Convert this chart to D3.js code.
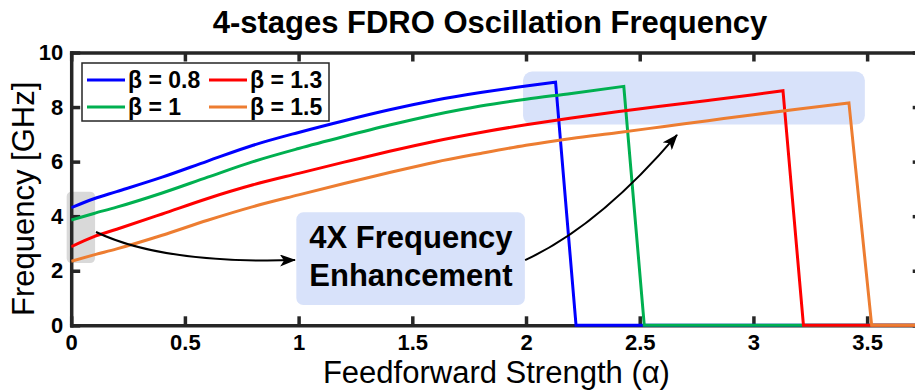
<!DOCTYPE html>
<html>
<head>
<meta charset="utf-8">
<script src="https://cdn.jsdelivr.net/npm/d3@7"></script>
<style>
  body { margin: 0; background: #fff; }
  svg { display: block; }
  text { font-family: "Liberation Sans", Arial, Helvetica, sans-serif; }
</style>
</head>
<body>
<svg id="chart" width="915" height="392"></svg>
<script>
// ---- data: oscillation frequency [GHz] vs feedforward strength α ----
const seriesNames  = ["β = 0.8", "β = 1", "β = 1.3", "β = 1.5"];
const seriesColors = ["#0000ff", "#00b050", "#ff0000", "#ed7d31"];

const alphaBeta08 = [0, 0.1, 0.2, 0.4, 0.6, 0.8, 1.0, 1.2, 1.4, 1.6, 1.8, 2.0, 2.13, 2.22, 3.8];
const freqBeta08  = [4.31, 4.64, 4.9, 5.43, 6.02, 6.6, 7.07, 7.5, 7.9, 8.25, 8.53, 8.77, 8.91, 0, 0];

const alphaBeta10 = [0, 0.1, 0.2, 0.4, 0.6, 0.8, 1.0, 1.2, 1.4, 1.6, 1.8, 2.0, 2.2, 2.43, 2.52, 3.8];
const freqBeta10  = [3.86, 4.1, 4.33, 4.85, 5.43, 6.0, 6.48, 6.92, 7.34, 7.72, 8.04, 8.29, 8.5, 8.76, 0, 0];

const alphaBeta13 = [0, 0.1, 0.2, 0.4, 0.6, 0.8, 1.0, 1.2, 1.4, 1.6, 1.8, 2.0, 2.2, 2.4, 2.6, 2.8, 3.0, 3.13, 3.22, 3.8];
const freqBeta13  = [2.88, 3.25, 3.52, 4.08, 4.65, 5.15, 5.57, 5.98, 6.38, 6.75, 7.07, 7.35, 7.6, 7.83, 8.04, 8.24, 8.45, 8.6, 0, 0];

const alphaBeta15 = [0, 0.1, 0.2, 0.4, 0.6, 0.8, 1.0, 1.2, 1.4, 1.6, 1.8, 2.0, 2.2, 2.4, 2.6, 2.8, 3.0, 3.2, 3.42, 3.52, 3.8];
const freqBeta15  = [2.35, 2.58, 2.8, 3.3, 3.85, 4.35, 4.78, 5.2, 5.6, 5.98, 6.3, 6.6, 6.85, 7.06, 7.28, 7.5, 7.72, 7.93, 8.15, 0, 0];

const xTickValues = [0, 0.5, 1, 1.5, 2, 2.5, 3, 3.5];
const yTickValues = [0, 2, 4, 6, 8, 10];

const titleText  = "4-stages FDRO Oscillation Frequency";
const xLabelText = "Feedforward Strength (α)";
const yLabelText = "Frequency [GHz]";
const noteLines  = ["4X Frequency", "Enhancement"];

const series = [
  { alpha: alphaBeta08, freq: freqBeta08 },
  { alpha: alphaBeta10, freq: freqBeta10 },
  { alpha: alphaBeta13, freq: freqBeta13 },
  { alpha: alphaBeta15, freq: freqBeta15 }
].map((s, i) => ({
  name: seriesNames[i],
  color: seriesColors[i],
  points: s.alpha.map((a, j) => [a, s.freq[j]])
}));

// ---- layout ----
const svg = d3.select("#chart");
const plot = { left: 71.2, right: 921.7, top: 52.5, bottom: 325.3 };
const axisColor = "#262626";

const x = d3.scaleLinear().domain([0, 3.74]).range([plot.left, plot.right]);
const y = d3.scaleLinear().domain([0, 10]).range([plot.bottom, plot.top]);

// ---- background highlight boxes ----
const boxes = svg.append("g");
// low-α starting region
boxes.append("rect")
  .attr("x", x(-0.02)).attr("y", y(4.9))
  .attr("width", x(0.105) - x(-0.02)).attr("height", y(2.28) - y(4.9))
  .attr("rx", 5).attr("fill", "#d9d9d9");
// peak-frequency region
boxes.append("rect")
  .attr("x", x(1.987)).attr("y", y(9.3))
  .attr("width", x(3.49) - x(1.987)).attr("height", y(7.36) - y(9.3))
  .attr("rx", 9).attr("fill", "#d8e2fa");

// ---- axes ----
const axisG = svg.append("g");
const tickLen = 9;

axisG.append("g")
  .attr("transform", `translate(0,${plot.bottom})`)
  .call(d3.axisBottom(x).tickValues(xTickValues).tickFormat(d3.format("~g"))
        .tickSize(-tickLen).tickSizeOuter(0).tickPadding(9));
axisG.append("g")
  .attr("transform", `translate(0,${plot.top})`)
  .call(d3.axisTop(x).tickValues(xTickValues).tickFormat("")
        .tickSize(-tickLen).tickSizeOuter(0));
axisG.append("g")
  .attr("transform", `translate(${plot.left},0)`)
  .call(d3.axisLeft(y).tickValues(yTickValues).tickFormat(d3.format("~g"))
        .tickSize(-tickLen).tickSizeOuter(0).tickPadding(8));
axisG.append("g")
  .attr("transform", `translate(${plot.right},0)`)
  .call(d3.axisRight(y).tickValues(yTickValues).tickFormat("")
        .tickSize(-tickLen).tickSizeOuter(0));

axisG.selectAll(".domain")
  .attr("stroke", axisColor).attr("stroke-width", 3.5).attr("stroke-linecap", "square");
axisG.selectAll(".tick line")
  .attr("stroke", axisColor).attr("stroke-width", 3.5);
axisG.selectAll(".tick text")
  .attr("fill", "#000").attr("font-size", 22).attr("font-weight", "bold")
  .attr("font-family", "'Liberation Sans', Arial, sans-serif");

// ---- curves: smooth rise up to the peak, then a straight drop to zero ----
svg.append("defs").append("clipPath").attr("id", "plotClip")
  .append("rect")
  .attr("x", plot.left).attr("y", plot.top - 5)
  .attr("width", plot.right - plot.left).attr("height", plot.bottom - plot.top + 10);

const smoothLine = d3.line().x(d => x(d[0])).y(d => y(d[1])).curve(d3.curveMonotoneX);
const straightLine = d3.line().x(d => x(d[0])).y(d => y(d[1]));
const curvePathFor = pts => {
  const peak = d3.maxIndex(pts, d => d[1]);
  const rise = smoothLine(pts.slice(0, peak + 1));
  const fall = straightLine(pts.slice(peak)).replace(/^M/, "L");
  return rise + fall;
};

svg.append("g").attr("clip-path", "url(#plotClip)")
  .selectAll("path").data(series).join("path")
  .attr("d", d => curvePathFor(d.points))
  .attr("fill", "none")
  .attr("stroke", d => d.color)
  .attr("stroke-width", 3)
  .attr("stroke-linejoin", "miter");

// ---- legend ----
const legend = svg.append("g");
legend.append("rect")
  .attr("x", 82).attr("y", 63).attr("width", 247).attr("height", 58)
  .attr("fill", "#fff").attr("stroke", axisColor).attr("stroke-width", 1.5);
const legendPos = [[87, 80], [87, 107], [209, 80], [209, 107]];
series.forEach((s, i) => {
  const [lx, ly] = legendPos[i];
  legend.append("line")
    .attr("x1", lx).attr("x2", lx + 38).attr("y1", ly).attr("y2", ly)
    .attr("stroke", s.color).attr("stroke-width", 3);
  legend.append("text")
    .attr("x", lx + 41).attr("y", ly).attr("dy", "0.35em")
    .attr("font-size", 23).attr("font-weight", "bold").attr("fill", "#000")
    .text(s.name);
});

// ---- title and axis labels ----
svg.append("text")
  .attr("x", 490).attr("y", 33).attr("text-anchor", "middle")
  .attr("font-size", 31).attr("font-weight", "bold").attr("fill", "#000")
  .text(titleText);

svg.append("text")
  .attr("x", (plot.left + plot.right) / 2).attr("y", 383).attr("text-anchor", "middle")
  .attr("font-size", 31).attr("fill", "#000")
  .text(xLabelText);

svg.append("text")
  .attr("transform", `translate(34,${(plot.top + plot.bottom) / 2 + 10}) rotate(-90)`)
  .attr("text-anchor", "middle")
  .attr("font-size", 31).attr("fill", "#000")
  .text(yLabelText);

// ---- annotation: text box with arrows ----
const defs = svg.select("defs");
defs.append("marker")
  .attr("id", "arrowHead").attr("markerUnits", "userSpaceOnUse")
  .attr("viewBox", "0 0 16 12").attr("refX", 15).attr("refY", 6)
  .attr("markerWidth", 16).attr("markerHeight", 12).attr("orient", "auto")
  .append("path").attr("d", "M0,0 L16,6 L0,12 L4,6 Z").attr("fill", "#000");

const note = svg.append("g");
note.append("rect")
  .attr("x", x(0.99)).attr("y", y(4.14))
  .attr("width", x(1.995) - x(0.99)).attr("height", y(0.74) - y(4.14))
  .attr("rx", 7).attr("fill", "#d8e2fa");
note.selectAll("text.note").data(noteLines).join("text")
  .attr("class", "note")
  .attr("x", x(1.494))
  .attr("y", (d, i) => y(i === 0 ? 2.83 : 1.44))
  .attr("text-anchor", "middle")
  .attr("font-size", 31).attr("font-weight", "bold").attr("fill", "#000")
  .text(d => d);

const bezier = pts => {
  const p = pts.map(([a, f]) => [x(a), y(f)]);
  return `M${p[0]} C${p[1]} ${p[2]} ${p[3]}`;
};
note.append("path")
  .attr("d", bezier([[0.109, 3.42], [0.347, 2.47], [0.698, 2.32], [0.984, 2.39]]))
  .attr("fill", "none").attr("stroke", "#000").attr("stroke-width", 2)
  .attr("marker-end", "url(#arrowHead)");
note.append("path")
  .attr("d", bezier([[1.996, 2.39], [2.237, 3.31], [2.457, 4.96], [2.664, 6.98]]))
  .attr("fill", "none").attr("stroke", "#000").attr("stroke-width", 2)
  .attr("marker-end", "url(#arrowHead)");
</script>
</body>
</html>
